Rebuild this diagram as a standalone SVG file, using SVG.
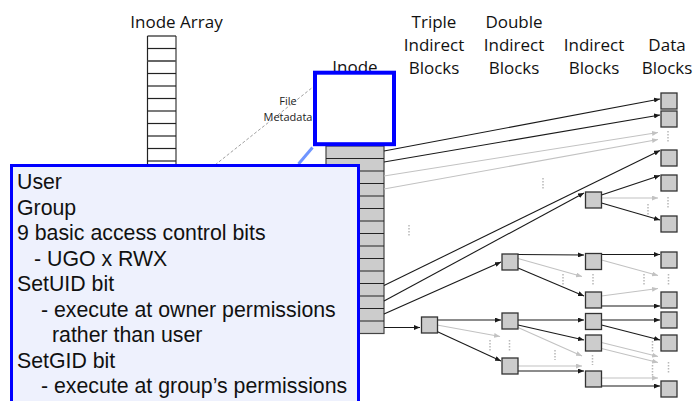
<svg xmlns="http://www.w3.org/2000/svg" width="696" height="401" viewBox="0 0 696 401">
  <defs>
    <marker id="ah" markerUnits="userSpaceOnUse" markerWidth="6" markerHeight="5" refX="6" refY="2.5" orient="auto">
      <path d="M0,0 L6,2.5 L0,5 z" fill="#1a1a1a"/>
    </marker>
    <marker id="ahg" markerUnits="userSpaceOnUse" markerWidth="6" markerHeight="5" refX="6" refY="2.5" orient="auto">
      <path d="M0,0 L6,2.5 L0,5 z" fill="#c2c2c2"/>
    </marker>
  </defs>
  <style>
    .hdr { font-family: "Open Sans", "Noto Sans", sans-serif; font-size: 17px; fill: #111; text-anchor: middle; }
    .small { font-family: "Open Sans", "Noto Sans", sans-serif; font-size: 11px; fill: #222; text-anchor: middle; }
    .blk { fill: #cccccc; stroke: #333; stroke-width: 1.3; }
    .ln { stroke: #1a1a1a; stroke-width: 1.1; fill: none; marker-end: url(#ah); }
    .lg { stroke: #c2c2c2; stroke-width: 1.1; fill: none; marker-end: url(#ahg); }
    .dots { stroke: #b8b8b8; stroke-width: 1.5; stroke-dasharray: 1.5 1.5; fill: none; }
    .cell { stroke: #222; stroke-width: 1.2; }
    .call { font-family: "Liberation Sans", Arial, sans-serif; font-size: 21.3px; fill: #111; }
  </style>

  <rect width="696" height="401" fill="#ffffff"/>

  <!-- column headings -->
  <g id="headings">
    <text class="hdr" x="176.5" y="27.5">Inode Array</text>
    <text class="hdr" x="434" y="27.5">Triple</text>
    <text class="hdr" x="434" y="50.5">Indirect</text>
    <text class="hdr" x="434" y="73.5">Blocks</text>
    <text class="hdr" x="514" y="27.5">Double</text>
    <text class="hdr" x="514" y="50.5">Indirect</text>
    <text class="hdr" x="514" y="73.5">Blocks</text>
    <text class="hdr" x="594" y="50.5">Indirect</text>
    <text class="hdr" x="594" y="73.5">Blocks</text>
    <text class="hdr" x="667" y="50.5">Data</text>
    <text class="hdr" x="667" y="73.5">Blocks</text>
  </g>

  <!-- inode array column -->
  <g id="inode-array">
    <rect x="147.5" y="36" width="28" height="150" fill="#fff" stroke="none"/>
    <line x1="147.5" y1="36" x2="147.5" y2="186" stroke="#222" stroke-width="1.2"/>
    <line x1="176" y1="36" x2="176" y2="186" stroke="#888" stroke-width="2"/>
    <g class="cell">
      <line x1="147.5" y1="36" x2="176" y2="36"/>
      <line x1="147.5" y1="48.5" x2="176" y2="48.5"/>
      <line x1="147.5" y1="61" x2="176" y2="61" stroke="#555" stroke-width="1.8"/>
      <line x1="147.5" y1="73.5" x2="176" y2="73.5"/>
      <line x1="147.5" y1="86" x2="176" y2="86"/>
      <line x1="147.5" y1="98.5" x2="176" y2="98.5"/>
      <line x1="147.5" y1="111" x2="176" y2="111"/>
      <line x1="147.5" y1="123.5" x2="176" y2="123.5"/>
      <line x1="147.5" y1="136" x2="176" y2="136"/>
      <line x1="147.5" y1="148.5" x2="176" y2="148.5"/>
      <line x1="147.5" y1="161" x2="176" y2="161"/>
    </g>
  </g>

  <!-- metadata leader -->
  <g id="metadata-label">
    <line x1="176" y1="196" x2="313" y2="87" stroke="#a0a0a0" stroke-width="1" stroke-dasharray="3 2"/>
    <text class="small" x="288" y="105">File</text>
    <text class="small" x="288" y="120.5">Metadata</text>
  </g>

  <!-- inode pointer stack -->
  <g id="inode-stack">
    <rect x="326" y="146" width="58" height="187.5" fill="#cccccc" stroke="#444" stroke-width="1.2"/>
    <g class="cell">
      <line x1="326" y1="158.5" x2="384" y2="158.5"/>
      <line x1="326" y1="171" x2="384" y2="171"/>
      <line x1="326" y1="183.5" x2="384" y2="183.5"/>
      <line x1="326" y1="196" x2="384" y2="196"/>
      <line x1="326" y1="208.5" x2="384" y2="208.5"/>
      <line x1="326" y1="221" x2="384" y2="221"/>
      <line x1="326" y1="233.5" x2="384" y2="233.5"/>
      <line x1="326" y1="246" x2="384" y2="246"/>
      <line x1="326" y1="258.5" x2="384" y2="258.5"/>
      <line x1="326" y1="271" x2="384" y2="271"/>
      <line x1="326" y1="283.5" x2="384" y2="283.5"/>
      <line x1="326" y1="296" x2="384" y2="296"/>
      <line x1="326" y1="308.5" x2="384" y2="308.5"/>
      <line x1="326" y1="321" x2="384" y2="321"/>
    </g>
  </g>

  <!-- pointers -->
  <g id="connectors">
    <line class="ln" x1="384" y1="151" x2="660" y2="99"/>
    <line class="ln" x1="384" y1="162" x2="660" y2="115"/>
    <line class="lg" x1="384" y1="176" x2="658" y2="132.5"/>
    <line class="lg" x1="384" y1="189" x2="658" y2="139.5"/>
    <line class="ln" x1="384" y1="285.5" x2="660" y2="150.5"/>
    <line class="ln" x1="384" y1="301" x2="584" y2="193"/>
    <line class="ln" x1="384" y1="314" x2="501" y2="262"/>
    <line class="ln" x1="384" y1="327.5" x2="420" y2="327.5"/>

    <line class="ln" x1="601.5" y1="195" x2="660" y2="175.5"/>
    <line class="lg" x1="601.5" y1="198" x2="658" y2="198"/>
    <line class="ln" x1="601.5" y1="203" x2="660" y2="220"/>

    <line class="ln" x1="518" y1="254.5" x2="584" y2="255"/>
    <line class="lg" x1="518" y1="258.5" x2="582" y2="276.5"/>
    <line class="ln" x1="518" y1="268" x2="584" y2="296"/>

    <line class="ln" x1="601.5" y1="254.5" x2="660" y2="254.5"/>
    <line class="lg" x1="601.5" y1="260" x2="658" y2="275.5"/>
    <line class="lg" x1="601.5" y1="296" x2="658" y2="288.5"/>
    <line class="ln" x1="601.5" y1="306" x2="660" y2="306"/>

    <line class="ln" x1="437" y1="320" x2="501" y2="320"/>
    <line class="lg" x1="437" y1="325" x2="500" y2="336.5"/>
    <line class="ln" x1="437" y1="331.5" x2="501" y2="361"/>

    <line class="ln" x1="518" y1="320" x2="584" y2="320"/>
    <line class="ln" x1="518" y1="325" x2="584" y2="340"/>
    <line class="lg" x1="518" y1="327.5" x2="582" y2="356"/>
    <line class="lg" x1="518" y1="366" x2="582" y2="366"/>
    <line class="ln" x1="518" y1="371" x2="584" y2="371"/>

    <line class="ln" x1="601.5" y1="320" x2="660" y2="320"/>
    <line class="ln" x1="601.5" y1="325" x2="660" y2="340"/>
    <line class="lg" x1="601.5" y1="342.5" x2="658" y2="356.5"/>
    <line class="lg" x1="601.5" y1="348.5" x2="658" y2="362.5"/>
    <line class="lg" x1="601.5" y1="378" x2="658" y2="378"/>
    <line class="ln" x1="601.5" y1="386" x2="660" y2="386"/>

    <!-- elided entries -->
    <path class="dots" d="M668,131V143 M543,178V189 M409,225V236 M648,204V215 M668,197V208
                          M563,274V285 M593,274V285 M644,274V285 M668.5,274V286
                          M490,340V351 M509.5,340V351 M555,350V360 M592.5,355V365
                          M652.5,341V352 M652.5,365V376 M668.5,362V373"/>
  </g>

  <!-- triple indirect block -->
  <g id="triple-1"><rect class="blk" x="421.5" y="317" width="16" height="16"/></g>

  <!-- double indirect blocks -->
  <g id="double-1"><rect class="blk" x="502" y="254" width="16" height="16"/></g>
  <g id="double-2"><rect class="blk" x="502" y="313" width="16" height="16"/></g>
  <g id="double-3"><rect class="blk" x="502" y="358" width="16" height="16"/></g>

  <!-- single indirect blocks -->
  <g id="indirect-1"><rect class="blk" x="585.5" y="192" width="16" height="16"/></g>
  <g id="indirect-2"><rect class="blk" x="585.5" y="253.5" width="16" height="16"/></g>
  <g id="indirect-3"><rect class="blk" x="585.5" y="292" width="16" height="16"/></g>
  <g id="indirect-4"><rect class="blk" x="585.5" y="313.5" width="16" height="16"/></g>
  <g id="indirect-5"><rect class="blk" x="585.5" y="335" width="16" height="16"/></g>
  <g id="indirect-6"><rect class="blk" x="585.5" y="371" width="16" height="16"/></g>

  <!-- data blocks -->
  <g id="data-1"><rect class="blk" x="661" y="93" width="16" height="16"/></g>
  <g id="data-2"><rect class="blk" x="661" y="111" width="16" height="16"/></g>
  <g id="data-3"><rect class="blk" x="661" y="150" width="16" height="16"/></g>
  <g id="data-4"><rect class="blk" x="661" y="175" width="16" height="16"/></g>
  <g id="data-5"><rect class="blk" x="661" y="216" width="16" height="16"/></g>
  <g id="data-6"><rect class="blk" x="661" y="252" width="16" height="16"/></g>
  <g id="data-7"><rect class="blk" x="661" y="292" width="16" height="16"/></g>
  <g id="data-8"><rect class="blk" x="661" y="312" width="16" height="16"/></g>
  <g id="data-9"><rect class="blk" x="661" y="335" width="16" height="16"/></g>
  <g id="data-10"><rect class="blk" x="661" y="381" width="16" height="16"/></g>

  <!-- inode header (highlighted) -->
  <g id="inode">
    <text class="hdr" x="355" y="73">Inode</text>
    <rect x="315" y="72.7" width="79" height="71.5" fill="#ffffff" stroke="#0000ff" stroke-width="4"/>
    <line x1="312.5" y1="147.5" x2="298.5" y2="164" stroke="#6f95ff" stroke-width="3"/>
  </g>

  <!-- metadata callout -->
  <g id="callout">
    <rect x="11.5" y="165.5" width="347" height="250" fill="#eef1fd" stroke="#0000ff" stroke-width="3"/>
    <text class="call" x="17" y="189.3">User</text>
    <text class="call" x="17" y="214.8">Group</text>
    <text class="call" x="17" y="240.3">9 basic access control bits</text>
    <text class="call" x="34" y="265.8">- UGO x RWX</text>
    <text class="call" x="17" y="291.3">SetUID bit</text>
    <text class="call" x="41" y="316.8">- execute at owner permissions</text>
    <text class="call" x="52" y="342.3">rather than user</text>
    <text class="call" x="17" y="367.8">SetGID bit</text>
    <text class="call" x="41" y="393.3">- execute at group’s permissions</text>
  </g>
</svg>
